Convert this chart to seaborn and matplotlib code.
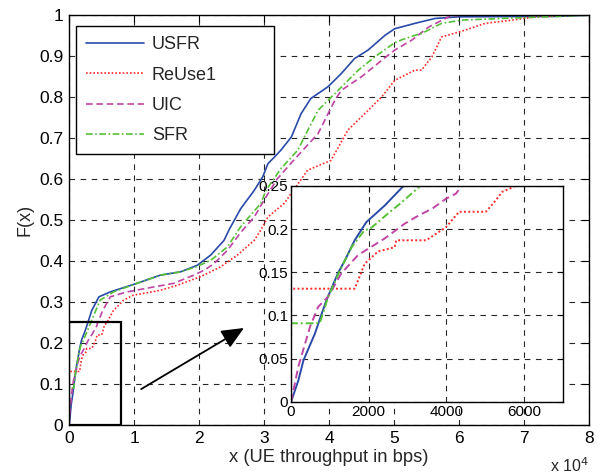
import numpy as np
import pandas as pd
import seaborn as sns
import matplotlib
matplotlib.use("Agg")
import matplotlib.pyplot as plt
from matplotlib.patches import Rectangle

# ---------------- data (x in bps) ----------------
series_names = ["USFR", "ReUse1", "UIC", "SFR"]

usfr_x = [0, 190, 320, 615, 790, 915, 1210, 1390, 1640, 1940, 2410, 2880, 3500, 4600, 6340,
          10460, 14060, 17160, 19730, 21800, 23850, 24600, 26400, 28500, 29800, 30600, 31600,
          32600, 34200, 35700, 37200, 39800, 41900, 43900, 46000, 48600, 50100, 53200, 56300,
          60000, 75000, 80000]
usfr_y = [0, 0.025, 0.048, 0.079, 0.102, 0.118, 0.149, 0.164, 0.187, 0.208, 0.227, 0.249, 0.28,
          0.313, 0.325, 0.346, 0.366, 0.374, 0.39, 0.415, 0.451, 0.476, 0.528, 0.573, 0.606, 0.638,
          0.654, 0.671, 0.703, 0.76, 0.797, 0.825, 0.858, 0.894, 0.915, 0.951, 0.967, 0.98, 0.992,
          0.996, 0.997, 1.0]

reuse_x = [0, 0, 1640, 1900, 2240, 2670, 2710, 3480, 3990, 4330, 5020, 5270, 5440, 5790, 6850,
           8400, 9900, 14060, 16600, 20200, 23300, 25900, 28500, 29500, 30600, 33100, 36700,
           40300, 42900, 45500, 48100, 50100, 53200, 54200, 55800, 57300, 60400, 64000, 68200,
           71800, 77000, 80000]
reuse_y = [0, 0.131, 0.131, 0.160, 0.174, 0.179, 0.187, 0.187, 0.202, 0.220, 0.220, 0.233, 0.243,
           0.250, 0.280, 0.305, 0.317, 0.329, 0.341, 0.362, 0.386, 0.415, 0.451, 0.476, 0.508,
           0.541, 0.622, 0.646, 0.72, 0.76, 0.801, 0.841, 0.866, 0.866, 0.898, 0.947, 0.961, 0.98,
           0.988, 0.996, 1.0, 1.0]

uic_x = [0, 190, 490, 700, 960, 1300, 1730, 2410, 2920, 3220, 3650, 3990, 4250, 4380, 5200, 6340,
         8900, 13000, 16100, 19200, 20800, 22300, 24400, 26400, 28500, 30000, 32000, 34200,
         36500, 38300, 40900, 41900, 45000, 48100, 50100, 52700, 55300, 58400, 60000, 80000]
uic_y = [0, 0.041, 0.087, 0.110, 0.122, 0.149, 0.170, 0.189, 0.206, 0.214, 0.224, 0.235, 0.241,
         0.249, 0.280, 0.313, 0.325, 0.337, 0.346, 0.366, 0.378, 0.394, 0.427, 0.470, 0.508,
         0.549, 0.600, 0.640, 0.680, 0.711, 0.793, 0.817, 0.850, 0.890, 0.915, 0.939, 0.971,
         0.996, 1.0, 1.0]

sfr_x = [0, 0, 740, 960, 1260, 1560, 1900, 2030, 2500, 2800, 3310, 4790, 6850, 10460, 14060,
         17160, 19500, 21800, 24370, 26400, 29500, 30300, 32600, 35200, 36200, 38300, 40900,
         44500, 47000, 50100, 51200, 53200, 54200, 57300, 60400, 66600, 80000]
sfr_y = [0, 0.091, 0.091, 0.122, 0.152, 0.179, 0.199, 0.200, 0.218, 0.229, 0.249, 0.305, 0.325,
         0.346, 0.366, 0.374, 0.386, 0.402, 0.435, 0.484, 0.541, 0.573, 0.626, 0.671, 0.703,
         0.768, 0.809, 0.866, 0.898, 0.933, 0.940, 0.951, 0.955, 0.980, 0.988, 0.992, 1.0]

main_xticks = [0, 10000, 20000, 30000, 40000, 50000, 60000, 70000, 80000]
main_xticklabels = ["0", "1", "2", "3", "4", "5", "6", "7", "8"]
main_yticks = [0, 0.1, 0.2, 0.3, 0.4, 0.5, 0.6, 0.7, 0.8, 0.9, 1.0]
main_yticklabels = ["0", "0.1", "0.2", "0.3", "0.4", "0.5", "0.6", "0.7", "0.8", "0.9", "1"]
inset_xticks = [0, 2000, 4000, 6000]
inset_xticklabels = ["0", "2000", "4000", "6000"]
inset_yticks = [0, 0.05, 0.1, 0.15, 0.2, 0.25]
inset_yticklabels = ["0", "0.05", "0.1", "0.15", "0.2", "0.25"]

# ---------------- styling ----------------
sns.set_theme(style="white")
plt.rcParams["font.family"] = ["Liberation Sans", "DejaVu Sans"]

colors = {"USFR": "#2a4aa8", "ReUse1": "#ff2a2a", "UIC": "#bf45a5", "SFR": "#55c035"}
styles = {"USFR": "-", "ReUse1": (0, (1, 1.2)), "UIC": (0, (4, 2.2)), "SFR": (0, (4, 1.5, 1, 1.5))}

data = {
    "USFR": (usfr_x, usfr_y),
    "ReUse1": (reuse_x, reuse_y),
    "UIC": (uic_x, uic_y),
    "SFR": (sfr_x, sfr_y),
}

fig = plt.figure(figsize=(6.0, 4.74), dpi=100)
ax = fig.add_axes([0.115, 0.103, 0.867, 0.865])

for name in series_names:
    xs, ys = data[name]
    sns.lineplot(x=xs, y=ys, ax=ax, color=colors[name], linestyle=styles[name],
                 linewidth=1.2, estimator=None, sort=False, label=name)

ax.set_xlim(0, 80000)
ax.set_ylim(0, 1)
ax.set_xticks(main_xticks)
ax.set_xticklabels(main_xticklabels, fontsize=12.5)
ax.set_yticks(main_yticks)
ax.set_yticklabels(main_yticklabels, fontsize=12.5)
ax.tick_params(direction="in", top=True, right=True, length=5, width=0.8, colors="black", pad=4)
ax.grid(True, color="black", linestyle=(0, (5, 5)), linewidth=0.8, alpha=0.85)
for sp in ax.spines.values():
    sp.set_color("black")
    sp.set_linewidth(1.0)
ax.set_xlabel("x (UE throughput in bps)", fontsize=13.2, labelpad=2)
ax.set_ylabel("F(x)", fontsize=13, labelpad=4)
ax.text(1.0, -0.114, "x 10$^4$", transform=ax.transAxes, ha="right", va="baseline", fontsize=11.5)

leg = ax.legend(loc="upper left", bbox_to_anchor=(0.0135, 0.5, 0.381, 0.473), mode="expand",
                borderaxespad=0, fontsize=13, frameon=True,
                fancybox=False, edgecolor="black", framealpha=1, handlelength=3.2,
                borderpad=0.55, labelspacing=0.74, handletextpad=0.45)
leg.get_frame().set_linewidth(1.0)

# zoom rectangle and arrow
ax.add_patch(Rectangle((0, 0), 8000, 0.252, fill=False, edgecolor="black", linewidth=1.6, zorder=5))
ax.annotate("", xy=(26900, 0.237), xytext=(11100, 0.088),
            arrowprops=dict(arrowstyle="-|>,head_length=0.9,head_width=0.4", mutation_scale=15,
                            color="black", lw=1.3, shrinkA=0, shrinkB=0))

# ---------------- inset ----------------
axi = fig.add_axes([0.485, 0.152, 0.453, 0.456])
axi.set_facecolor("white")
for name in series_names:
    xs, ys = data[name]
    sns.lineplot(x=xs, y=ys, ax=axi, color=colors[name], linestyle=styles[name],
                 linewidth=1.4, estimator=None, sort=False, legend=False)
axi.set_xlim(0, 7000)
axi.set_ylim(0, 0.25)
axi.set_xticks(inset_xticks)
axi.set_xticklabels(inset_xticklabels, fontsize=11)
axi.set_yticks(inset_yticks)
axi.set_yticklabels(inset_yticklabels, fontsize=11)
axi.tick_params(direction="in", top=True, right=True, length=4, width=0.8, colors="black", pad=2)
axi.grid(True, color="black", linestyle=(0, (5, 5)), linewidth=0.8, alpha=0.85)
axi.set_xlabel("")
axi.set_ylabel("")
for sp in axi.spines.values():
    sp.set_color("black")
    sp.set_linewidth(1.0)

fig.savefig("out.png", dpi=100)
